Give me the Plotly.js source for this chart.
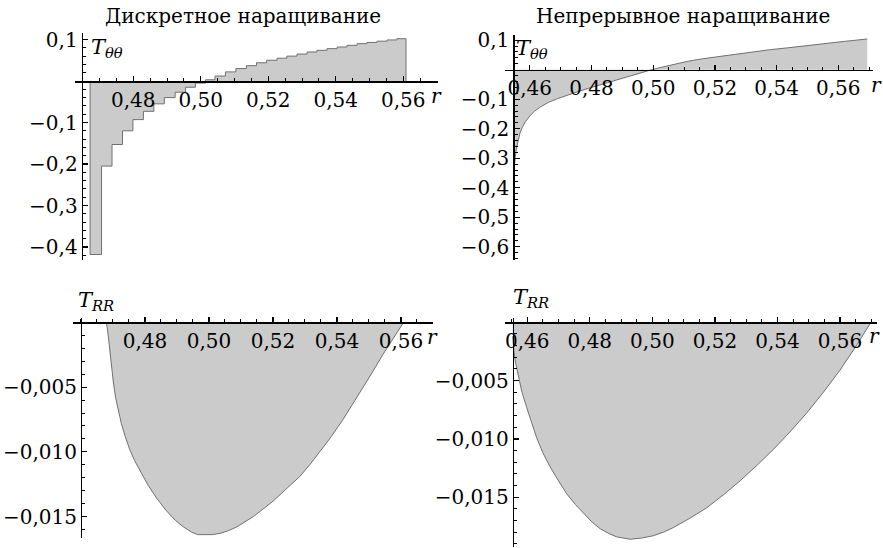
<!DOCTYPE html>
<html>
<head>
<meta charset="utf-8">
<script src="https://cdn.plot.ly/plotly-3.0.1.min.js"></script>
<style>html,body{margin:0;padding:0;background:#fff;}#chart{width:883px;height:548px;}</style>
</head>
<body>
<div id="chart"></div>
<script>
// ---------- data ----------
const panelTitles = ["Дискретное наращивание", "Непрерывное наращивание"];
const labelTheta = "<i>T</i><sub><i>θθ</i></sub>";
const labelRR = "<i>T</i><sub><i>RR</i></sub>";
const labelR = "<i>r</i>";

// discrete growth, T_theta-theta (step function): step edges and step values
const stepEdges = [0.4672, 0.4706, 0.4737, 0.4768, 0.4799, 0.4830, 0.4861, 0.4892, 0.4924, 0.4955,
  0.4984, 0.5014, 0.5042, 0.5073, 0.5104, 0.5135, 0.5165, 0.5195, 0.5226, 0.5255,
  0.5285, 0.5315, 0.5344, 0.5374, 0.5404, 0.5433, 0.5463, 0.5492, 0.5522, 0.5552,
  0.5581, 0.5608];
const stepValues = [-0.418, -0.205, -0.153, -0.120, -0.093, -0.073, -0.055, -0.040, -0.027, -0.015,
  -0.005, 0.003, 0.012, 0.022, 0.030, 0.037, 0.044, 0.050, 0.055, 0.060,
  0.065, 0.070, 0.074, 0.078, 0.082, 0.086, 0.090, 0.093, 0.096, 0.099, 0.102];

// continuous growth, T_theta-theta
const contR = [0.45465, 0.4548, 0.4550, 0.4553, 0.4557, 0.4562, 0.4568, 0.4576, 0.4586,
  0.4600, 0.4615, 0.4635, 0.4660, 0.4690, 0.4725, 0.4760, 0.4800, 0.4850, 0.4900,
  0.4950, 0.4985, 0.5030, 0.5070, 0.5110, 0.5160, 0.5220, 0.5270, 0.5325, 0.5380,
  0.5435, 0.5490, 0.5540, 0.5620, 0.5694];
const contT = [-0.370, -0.345, -0.320, -0.295, -0.265, -0.240, -0.215, -0.195, -0.176,
  -0.157, -0.141, -0.126, -0.111, -0.098, -0.085, -0.073, -0.060, -0.044, -0.028,
  -0.013, -0.003, 0.009, 0.019, 0.028, 0.037, 0.046, 0.054, 0.061, 0.068,
  0.074, 0.081, 0.087, 0.096, 0.104];

// discrete growth, T_RR
const rrDiscR = [0.4678, 0.4682, 0.4686, 0.4690, 0.4695, 0.4701, 0.4708, 0.4716, 0.4726, 0.4738,
  0.4752, 0.4768, 0.4787, 0.4810, 0.4837, 0.4865, 0.4895, 0.4920, 0.4945, 0.4965,
  0.4985, 0.5010, 0.5035, 0.5060, 0.5087, 0.5113, 0.5139, 0.5170, 0.5201, 0.5240,
  0.5284, 0.5315, 0.5346, 0.5383, 0.5419, 0.5450, 0.5481, 0.5512, 0.5543, 0.5575, 0.5608];
const rrDiscT = [0, -0.0004, -0.0012, -0.0022, -0.0034, -0.0046, -0.0058, -0.0068, -0.0078, -0.0088,
  -0.0098, -0.0107, -0.0116, -0.0126, -0.0136, -0.0145, -0.0153, -0.0158, -0.0162, -0.0164,
  -0.0164, -0.0164, -0.0163, -0.0161, -0.0158, -0.0154, -0.0150, -0.0144, -0.0138, -0.0129,
  -0.0119, -0.0110, -0.0100, -0.0088, -0.0075, -0.0063, -0.0050, -0.0038, -0.0025, -0.0013, 0];

// continuous growth, T_RR
const rrContR = [0.45533, 0.4556, 0.4562, 0.4570, 0.4583, 0.4598, 0.4614, 0.4630, 0.4650, 0.4673,
  0.4700, 0.4726, 0.4753, 0.4780, 0.4806, 0.4833, 0.4860, 0.4886, 0.4908, 0.4929,
  0.4966, 0.5003, 0.5035, 0.5067, 0.5120, 0.5174, 0.5227, 0.5280, 0.5333, 0.5387,
  0.5440, 0.5493, 0.5547, 0.5600, 0.5650, 0.5699];
const rrContT = [-0.0012, -0.0022, -0.0034, -0.0045, -0.0060, -0.0073, -0.0087, -0.0099, -0.0112, -0.0124,
  -0.0136, -0.0147, -0.0156, -0.0164, -0.0171, -0.0177, -0.0181, -0.0184, -0.0185, -0.0186,
  -0.0185, -0.0183, -0.0180, -0.0176, -0.0168, -0.0159, -0.0148, -0.0136, -0.0123, -0.0109,
  -0.0094, -0.0078, -0.0060, -0.0041, -0.0021, 0];

// tick values
const xTicksTL = [0.48, 0.50, 0.52, 0.54, 0.56];
const xTicksTR = [0.46, 0.48, 0.50, 0.52, 0.54, 0.56];
const yTicksTL = [0.1, -0.1, -0.2, -0.3, -0.4];
const yTicksTR = [0.1, -0.1, -0.2, -0.3, -0.4, -0.5, -0.6];
const yTicksRR = [-0.005, -0.010, -0.015];

// ---------- layout helpers ----------
const W = 883, H = 548;
const px = v => v / W;
const py = v => 1 - v / H;
function minorVals(lo, hi, step, majors) {
  const out = [];
  const n0 = Math.ceil(lo / step - 1e-9), n1 = Math.floor(hi / step + 1e-9);
  for (let n = n0; n <= n1; n++) {
    const v = +(n * step).toFixed(6);
    if (Math.abs(v) < 1e-12) continue;
    if (majors.some(m => Math.abs(m - v) < step / 10)) continue;
    out.push(v);
  }
  return out;
}
const FONT = "DejaVu Serif";
const tickFont = {family: FONT, size: 20, color: "#000"};

function makeAxes(p) {
  const xd = [px(p.xdom[0]), px(p.xdom[1])];
  const yd = [py(p.ydom[1]), py(p.ydom[0])];
  const yPos = yd[0] + (0 - p.yr[0]) / (p.yr[1] - p.yr[0]) * (yd[1] - yd[0]);
  const xPos = xd[0] + (p.xorigin - p.xr[0]) / (p.xr[1] - p.xr[0]) * (xd[1] - xd[0]);
  const xa = {
    domain: xd, range: p.xr, anchor: "free", position: yPos,
    showline: true, linecolor: "#000", linewidth: 1.5, zeroline: false, showgrid: false,
    ticks: "inside", ticklen: 5, tickwidth: 1.2, tickcolor: "#000",
    tickmode: "array", tickvals: p.xticks, tickformat: ".2f", tickfont: tickFont,
    minor: {tickmode: "array", tickvals: minorVals(p.xr[0], p.xr[1], p.xminor, p.xticks), ticks: "inside", ticklen: 3, tickwidth: 1, tickcolor: "#000", showgrid: false},
    fixedrange: true
  };
  const ya = {
    domain: yd, range: p.yr, anchor: "free", position: xPos,
    showline: true, linecolor: "#000", linewidth: 1.5, zeroline: false, showgrid: false,
    ticks: "inside", ticklen: 5, tickwidth: 1.2, tickcolor: "#000",
    tickmode: "array", tickvals: p.yticks, tickformat: p.yfmt, tickfont: tickFont,
    minor: {tickmode: "array", tickvals: minorVals(p.yr[0], p.yr[1], p.yminor, p.yticks), ticks: "inside", ticklen: 3, tickwidth: 1, tickcolor: "#000", showgrid: false},
    fixedrange: true
  };
  return [xa, ya];
}

const panels = [
  {xdom: [75, 438], xr: [0.46273, 0.57028], ydom: [33, 260], yr: [-0.4313, 0.1157], xorigin: 0.4647, xticks: xTicksTL, yticks: yTicksTL, yfmt: ".1f", xminor: 0.005, yminor: 0.02},
  {xdom: [505, 873], xr: [0.45196, 0.57125], ydom: [34.7, 259.7], yr: [-0.644, 0.1186], xorigin: 0.45465, xticks: xTicksTR, yticks: yTicksTR, yfmt: ".1f", xminor: 0.005, yminor: 0.02},
  {xdom: [73.3, 433.3], xr: [0.4576, 0.5701], ydom: [318.3, 537.5], yr: [-0.01662, 0.00032], xorigin: 0.46, xticks: xTicksTL, yticks: yTicksRR, yfmt: ".3f", xminor: 0.005, yminor: 0.001},
  {xdom: [505, 876.7], xr: [0.45287, 0.57174], ydom: [318, 546.7], yr: [-0.01924, 0.00037], xorigin: 0.45533, xticks: xTicksTR, yticks: yTicksRR, yfmt: ".3f", xminor: 0.005, yminor: 0.001}
];

const layout = {
  width: W, height: H, margin: {l: 0, r: 0, t: 0, b: 0},
  paper_bgcolor: "#fff", plot_bgcolor: "rgba(0,0,0,0)",
  showlegend: false, separators: ", ",
  font: {family: FONT, color: "#000"},
  annotations: []
};
panels.forEach((p, i) => {
  const [xa, ya] = makeAxes(p);
  const s = i === 0 ? "" : String(i + 1);
  layout["xaxis" + s] = xa;
  layout["yaxis" + s] = ya;
});

// ---------- traces ----------
const fillCol = "#cbcbcb", lineCol = "#707070";
const sx = [stepEdges[0]], sy = [0];
stepValues.forEach((v, k) => { sx.push(stepEdges[k]); sy.push(v); });
sx.push(stepEdges[stepEdges.length - 1]); sy.push(stepValues[stepValues.length - 1]);
sx.push(stepEdges[stepEdges.length - 1]); sy.push(0);

const common = {type: "scatter", mode: "lines", fill: "tozeroy", fillcolor: fillCol, hoverinfo: "skip", cliponaxis: true};
const traces = [
  Object.assign({x: sx, y: sy, xaxis: "x", yaxis: "y", line: {shape: "hv", color: lineCol, width: 1}}, common),
  Object.assign({x: contR, y: contT, xaxis: "x2", yaxis: "y2", line: {shape: "linear", color: lineCol, width: 1}}, common),
  Object.assign({x: rrDiscR, y: rrDiscT, xaxis: "x3", yaxis: "y3", line: {shape: "linear", color: lineCol, width: 1}}, common),
  Object.assign({x: rrContR, y: rrContT, xaxis: "x4", yaxis: "y4", line: {shape: "linear", color: lineCol, width: 1}}, common)
];

// ---------- annotations ----------
function ann(x, y, text, xanchor, size) {
  layout.annotations.push({xref: "paper", yref: "paper", x: px(x), y: py(y), text: text, showarrow: false,
    xanchor: xanchor, yanchor: "middle", font: {family: FONT, size: size, color: "#000"}});
}
ann(243, 16, panelTitles[0], "center", 20);
ann(683, 16, panelTitles[1], "center", 20);
ann(89, 48, labelTheta, "left", 21);
ann(514, 49, labelTheta, "left", 21);
ann(76, 301, labelRR, "left", 21);
ann(511, 298, labelRR, "left", 21);
ann(436, 96, labelR, "center", 20);
ann(876, 85, labelR, "center", 20);
ann(432, 337, labelR, "center", 20);
ann(874, 336, labelR, "center", 20);

Plotly.newPlot("chart", traces, layout, {displayModeBar: false, staticPlot: true});
</script>
</body>
</html>
